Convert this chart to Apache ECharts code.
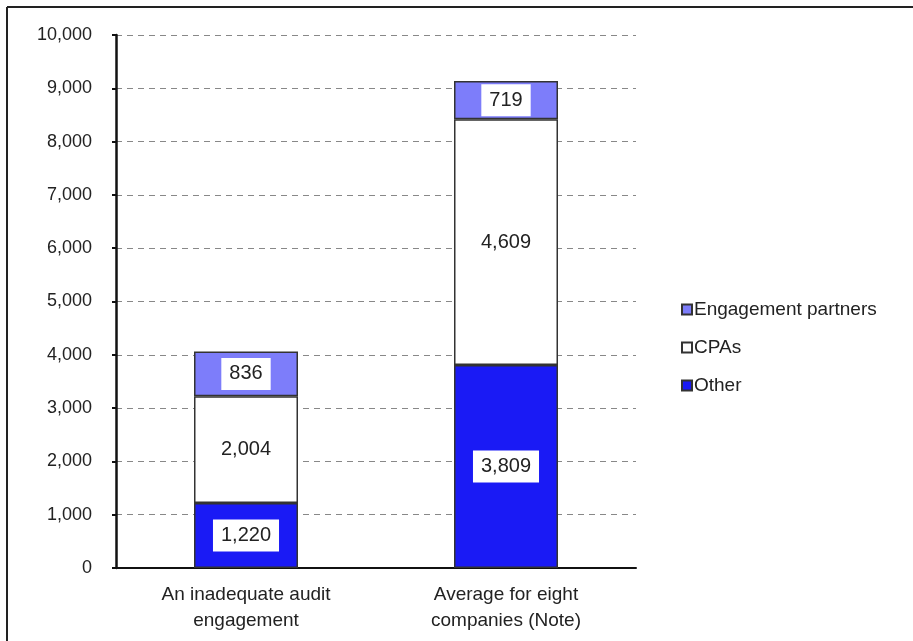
<!DOCTYPE html>
<html>
<head>
<meta charset="utf-8">
<script src="https://cdn.jsdelivr.net/npm/echarts@6/dist/echarts.min.js"></script>
<style>
  html, body { margin: 0; padding: 0; background: #fff; }
  #chart { width: 913px; height: 641px; }
</style>
</head>
<body>
<div id="chart"></div>
<script>
const categories = ['An inadequate audit\nengagement', 'Average for eight\ncompanies (Note)']
const otherValues = [1220, 3809]
const cpaValues = [2004, 4609]
const partnerValues = [836, 719]
const legendNames = ['Engagement partners', 'CPAs', 'Other']

const chart = echarts.init(document.getElementById('chart'))

// label box on each segment
const segLabel = {
  show: true,
  position: 'inside',
  fontFamily: 'Liberation Sans, Arial, sans-serif',
  fontSize: 20,
  color: '#222',
  backgroundColor: '#fff',
  padding: [7, 8, 5, 8],
  formatter: (p) => p.value.toLocaleString('en-US')
}
const barBorder = { borderColor: '#333', borderWidth: 1.5 }

chart.setOption({
  animation: false,
  textStyle: { fontFamily: 'Liberation Sans, Arial, sans-serif' },
  graphic: [
    { type: 'line', shape: { x1: 7, y1: 7, x2: 913, y2: 7 }, style: { stroke: '#222', lineWidth: 2 } },
    { type: 'line', shape: { x1: 7, y1: 7, x2: 7, y2: 641 }, style: { stroke: '#222', lineWidth: 2 } }
  ],
  grid: { left: 116, right: 277, top: 35, bottom: 73 },
  legend: {
    data: legendNames,
    orient: 'vertical',
    left: 676,
    top: 295,
    itemWidth: 10,
    itemHeight: 10,
    itemGap: 19,
    icon: 'rect',
    textStyle: { fontSize: 19, color: '#222', padding: [0, 0, 0, -3] }
  },
  xAxis: {
    type: 'category',
    data: categories,
    axisLine: { lineStyle: { color: '#111', width: 2 } },
    axisTick: { show: false },
    axisLabel: { fontSize: 19, color: '#222', lineHeight: 26, margin: 14 }
  },
  yAxis: {
    type: 'value',
    min: 0,
    max: 10000,
    interval: 1000,
    axisLine: { show: true, lineStyle: { color: '#111', width: 2.5 } },
    axisTick: { show: true, length: 4, lineStyle: { color: '#111', width: 2 } },
    axisLabel: {
      fontSize: 18,
      color: '#222',
      margin: 24,
      formatter: (v) => v.toLocaleString('en-US')
    },
    splitLine: { lineStyle: { color: '#888', type: [6, 5], width: 1 } }
  },
  series: [
    {
      name: 'Other',
      type: 'bar',
      stack: 'total',
      barWidth: '40%',
      data: otherValues,
      itemStyle: { color: '#1a1af5', ...barBorder },
      label: segLabel
    },
    {
      name: 'CPAs',
      type: 'bar',
      stack: 'total',
      data: cpaValues,
      itemStyle: { color: '#ffffff', ...barBorder },
      label: segLabel
    },
    {
      name: 'Engagement partners',
      type: 'bar',
      stack: 'total',
      data: partnerValues,
      itemStyle: { color: '#7d7dfa', ...barBorder },
      label: segLabel
    }
  ]
})
</script>
</body>
</html>
